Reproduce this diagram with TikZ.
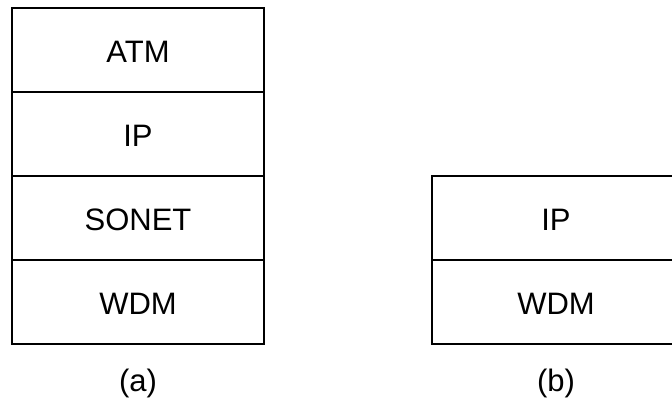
\documentclass[tikz,border=0pt]{standalone}
\usepackage{fontspec}
\setmainfont{Liberation Sans}
\begin{document}
\begin{tikzpicture}[x=1pt,y=1pt,
  layer/.style={draw=black, line width=1.6pt, rectangle, inner sep=0pt,
    minimum width=252pt, minimum height=84pt},
  lbl/.style={font=\fontsize{31}{36}\selectfont, inner sep=0pt},
  caption/.style={font=\fontsize{31}{36}\selectfont}]
\useasboundingbox (0,0) rectangle (672,401);
\begin{scope}
\clip (0,0) rectangle (672,401);
% stack (a)
\node[layer] (atm)   at (138,351) {};
\node[layer] (ipa)   at (138,267) {};
\node[layer] (sonet) at (138,183) {};
\node[layer] (wdma)  at (138,99)  {};
% stack (b)
\node[layer, minimum width=248pt] (ipb)  at (556,183) {};
\node[layer, minimum width=248pt] (wdmb) at (556,99)  {};
\end{scope}
\node[lbl] (tatm)   at ([yshift=-2pt]atm.center)   {ATM};
\node[lbl] (tipa)   at ([yshift=-2pt]ipa.center)   {IP};
\node[lbl] (tsonet) at ([yshift=-2pt]sonet.center) {SONET};
\node[lbl] (twdma)  at ([yshift=-2pt]wdma.center)  {WDM};
\node[lbl] (tipb)   at ([yshift=-2pt]ipb.center)   {IP};
\node[lbl] (twdmb)  at ([yshift=-2pt]wdmb.center)  {WDM};
\node[caption] (capa) at (138,18) {(a)};
\node[caption] (capb) at (556,18) {(b)};
\end{tikzpicture}
\end{document}
